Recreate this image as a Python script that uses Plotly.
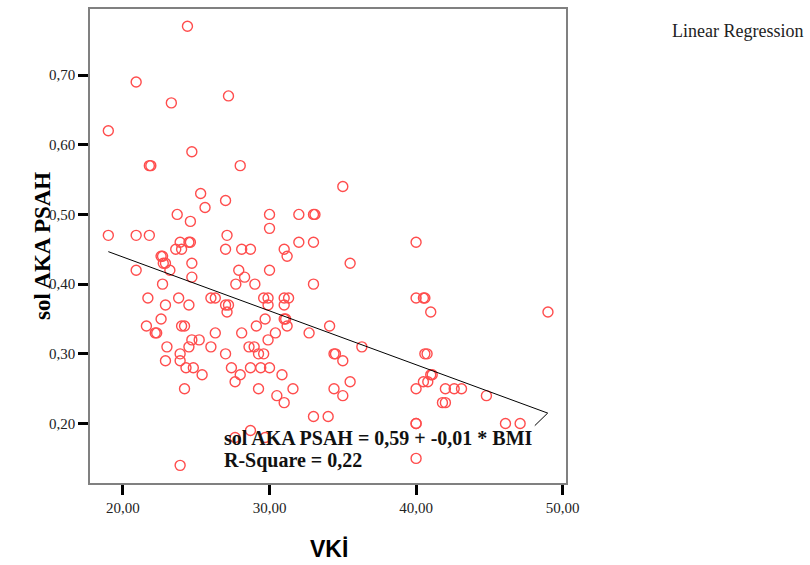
import plotly.graph_objects as go

# BMI (VKİ) values and sol AKA PSAH values
vki = [24.4, 20.9, 23.3, 27.2, 19.0, 24.7, 21.8, 21.9, 28.0, 35.0,
       25.3, 27.0, 25.6, 23.7, 30.0, 32.0, 33.0, 33.1, 24.6, 30.0,
       19.0, 20.9, 21.8, 27.1, 23.9, 24.5, 24.6, 32.0, 33.0, 40.0,
       23.6, 24.0, 27.0, 28.1, 28.7, 31.0, 31.2, 22.6, 22.7, 22.75,
       22.9, 24.7, 35.5, 23.2, 20.9, 27.9, 30.0, 24.7, 28.3, 22.7,
       27.7, 29.0, 33.0, 21.7, 23.8, 26.0, 26.3, 29.6, 29.9, 31.0,
       31.3, 40.0, 40.5, 40.6, 22.9, 24.5, 27.0, 27.2, 29.9, 31.0,
       27.1, 41.0, 49.0, 22.6, 29.7, 31.0, 31.1, 21.6, 24.0, 24.2,
       29.1, 31.2, 34.1, 22.2, 22.3, 26.3, 28.1, 30.4, 32.7, 24.7,
       25.2, 29.9, 23.0, 24.5, 26.0, 28.6, 28.95, 36.3, 23.9, 27.0,
       29.25, 29.6, 34.4, 34.5, 40.6, 40.75, 22.9, 23.9, 35.0, 24.3,
       24.8, 27.4, 28.7, 29.4, 30.0, 25.4, 28.0, 30.85, 41.0, 41.1,
       27.65, 35.5, 40.5, 40.8, 24.2, 29.25, 31.6, 34.4, 40.0, 42.0,
       42.6, 43.1, 30.5, 35.0, 44.8, 31.0, 41.8, 42.0, 33.0, 34.0,
       40.0, 40.0, 46.1, 47.1, 28.7, 27.65, 29.7, 23.9, 40.0]
psah = [0.77, 0.69, 0.66, 0.67, 0.62, 0.59, 0.57, 0.57, 0.57, 0.54,
        0.53, 0.52, 0.51, 0.50, 0.50, 0.50, 0.50, 0.50, 0.49, 0.48,
        0.47, 0.47, 0.47, 0.47, 0.46, 0.46, 0.46, 0.46, 0.46, 0.46,
        0.45, 0.45, 0.45, 0.45, 0.45, 0.45, 0.44, 0.44, 0.44, 0.43,
        0.43, 0.43, 0.43, 0.42, 0.42, 0.42, 0.42, 0.41, 0.41, 0.40,
        0.40, 0.40, 0.40, 0.38, 0.38, 0.38, 0.38, 0.38, 0.38, 0.38,
        0.38, 0.38, 0.38, 0.38, 0.37, 0.37, 0.37, 0.37, 0.37, 0.37,
        0.36, 0.36, 0.36, 0.35, 0.35, 0.35, 0.35, 0.34, 0.34, 0.34,
        0.34, 0.34, 0.34, 0.33, 0.33, 0.33, 0.33, 0.33, 0.33, 0.32,
        0.32, 0.32, 0.31, 0.31, 0.31, 0.31, 0.31, 0.31, 0.30, 0.30,
        0.30, 0.30, 0.30, 0.30, 0.30, 0.30, 0.29, 0.29, 0.29, 0.28,
        0.28, 0.28, 0.28, 0.28, 0.28, 0.27, 0.27, 0.27, 0.27, 0.27,
        0.26, 0.26, 0.26, 0.26, 0.25, 0.25, 0.25, 0.25, 0.25, 0.25,
        0.25, 0.25, 0.24, 0.24, 0.24, 0.23, 0.23, 0.23, 0.21, 0.21,
        0.20, 0.20, 0.20, 0.20, 0.19, 0.18, 0.18, 0.14, 0.15]

# Regression line as drawn (including the small end hook)
fit_x = [19.0, 48.98, 48.1]
fit_y = [0.4466, 0.215, 0.197]

x_ticks = [20, 30, 40, 50]
y_ticks = [0.20, 0.30, 0.40, 0.50, 0.60, 0.70]

serif = "Liberation Serif, Times New Roman, serif"

fig = go.Figure()
fig.add_trace(go.Scatter(
    x=vki, y=psah, mode="markers",
    marker=dict(symbol="circle-open", size=10, color="#ff4d4d",
                line=dict(width=1.4, color="#ff4d4d")),
    showlegend=False, hoverinfo="skip"))
fig.add_trace(go.Scatter(
    x=fit_x, y=fit_y, mode="lines",
    line=dict(color="black", width=1), showlegend=False, hoverinfo="skip"))

fig.update_layout(
    width=810, height=565,
    margin=dict(l=90, r=244, t=7, b=82),
    paper_bgcolor="white", plot_bgcolor="white",
    separators=",.",
    font=dict(family=serif, size=15, color="#222"),
    xaxis=dict(range=[17.75, 50.23], tickvals=x_ticks, tickformat=".2f",
               showgrid=False, zeroline=False, showline=True, mirror=True,
               linecolor="#808080", linewidth=1.5,
               ticks="outside", ticklen=10, tickwidth=3, tickcolor="black",
               tickfont=dict(family=serif, size=15, color="#222")),
    yaxis=dict(range=[0.1147, 0.7947], tickvals=y_ticks, tickformat=".2f",
               showgrid=False, zeroline=False, showline=True, mirror=True,
               linecolor="#808080", linewidth=1.5,
               ticks="outside", ticklen=10, tickwidth=3, tickcolor="black",
               tickfont=dict(family=serif, size=15, color="#222")),
    annotations=[
        dict(text="sol AKA PSAH", xref="paper", yref="paper", x=-0.1008, y=0.5,
             xanchor="center", yanchor="middle", textangle=-90, showarrow=False,
             font=dict(family=serif, size=23, color="black", weight="bold")),
        dict(text="VKİ", xref="paper", yref="paper", x=0.502, y=-0.1387,
             xanchor="center", yanchor="middle", showarrow=False,
             font=dict(family="Liberation Sans, Arial, sans-serif", size=23,
                       color="black", weight="bold")),
        dict(text="sol AKA PSAH = 0,59 + -0,01 * BMI", xref="paper", yref="paper",
             x=0.2773, y=0.0945, xanchor="left", yanchor="middle", showarrow=False,
             font=dict(family=serif, size=20, color="#111", weight="bold")),
        dict(text="R-Square = 0,22", xref="paper", yref="paper",
             x=0.2773, y=0.0483, xanchor="left", yanchor="middle", showarrow=False,
             font=dict(family=serif, size=20, color="#111", weight="bold")),
        dict(text="Linear Regression", xref="paper", yref="paper",
             x=1.2185, y=0.954, xanchor="left", yanchor="middle", showarrow=False,
             font=dict(family=serif, size=18, color="#222")),
    ],
)

fig.write_html("out.html")
